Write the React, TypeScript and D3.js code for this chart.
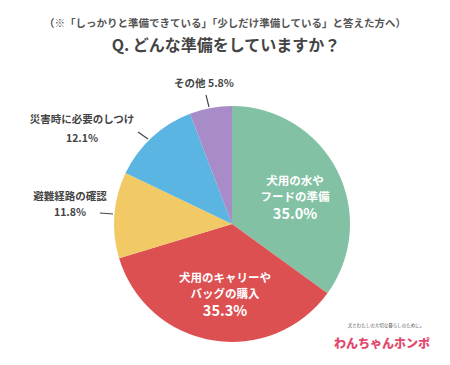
import { useRef, useEffect } from "react";
import * as d3 from "d3";

const categories = [
  "犬用の水やフードの準備",
  "犬用のキャリーやバッグの購入",
  "避難経路の確認",
  "災害時に必要のしつけ",
  "その他",
];
const values = [35.0, 35.3, 11.8, 12.1, 5.8];
const colors = ["#82c1a3", "#dd5052", "#f1ca66", "#5bb5e2", "#a88cc7"];
const subtitle = "（※「しっかりと準備できている」「少しだけ準備している」と答えた方へ）";
const title = "Q. どんな準備をしていますか？";

const FONT = "'Noto Sans CJK JP', 'Noto Sans', sans-serif";

export default function App() {
  const svgRef = useRef<SVGSVGElement>(null);

  useEffect(() => {
    const svg = d3.select(svgRef.current);
    svg.selectAll("*").remove();
    const width = 450;
    const height = 365;
    const cx = 232;
    const cy = 224;
    const r = 118;

    svg.attr("width", width).attr("height", height);
    svg.append("rect").attr("width", width).attr("height", height).attr("fill", "#fff");

    // タイトル
    svg.append("text")
      .attr("x", 225).attr("y", 27)
      .attr("text-anchor", "middle")
      .attr("font-family", FONT).attr("font-weight", "bold")
      .attr("font-size", "10.5px").attr("fill", "#555")
      .text(subtitle);
    svg.append("text")
      .attr("x", 226).attr("y", 51)
      .attr("text-anchor", "middle")
      .attr("font-family", FONT).attr("font-weight", "bold")
      .attr("font-size", "16px").attr("fill", "#444")
      .text(title);

    const data = categories.map((c, i) => ({ name: c, value: values[i], color: colors[i] }));
    const pie = d3.pie<{ name: string; value: number; color: string }>()
      .sort(null)
      .value((d) => d.value);
    const arcs = pie(data);
    const arc = d3.arc<d3.PieArcDatum<{ name: string; value: number; color: string }>>()
      .innerRadius(0)
      .outerRadius(r);

    const g = svg.append("g").attr("transform", `translate(${cx},${cy})`);
    g.selectAll("path")
      .data(arcs)
      .join("path")
      .attr("d", arc)
      .attr("fill", (d) => d.data.color);

    // 内側ラベル
    const inner = [
      { i: 0, lines: ["犬用の水や", "フードの準備"], x: 295, y: 181 },
      { i: 1, lines: ["犬用のキャリーや", "バッグの購入"], x: 225, y: 278 },
    ];
    inner.forEach((lb) => {
      const t = svg.append("g").attr("font-family", FONT).attr("font-weight", "bold")
        .attr("fill", "#fff").attr("text-anchor", "middle");
      lb.lines.forEach((ln, k) => {
        t.append("text").attr("x", lb.x).attr("y", lb.y + k * 15.5)
          .attr("dy", "0.35em").attr("font-size", "11.5px").text(ln);
      });
      t.append("text").attr("x", lb.x).attr("y", lb.y + 33)
        .attr("dy", "0.35em").attr("font-size", "14.5px")
        .text(`${d3.format(".1f")(values[lb.i])}%`);
    });

    // 外側ラベル
    const outer = svg.append("g").attr("font-family", FONT).attr("font-weight", "bold")
      .attr("fill", "#444").attr("font-size", "10.5px");

    // 避難経路の確認
    outer.append("text").attr("x", 70).attr("y", 196).attr("dy", "0.35em")
      .attr("text-anchor", "middle").text(categories[2]);
    outer.append("text").attr("x", 70).attr("y", 212).attr("dy", "0.35em")
      .attr("text-anchor", "middle").text(`${d3.format(".1f")(values[2])}%`);
    // 災害時に必要のしつけ
    outer.append("text").attr("x", 82).attr("y", 119).attr("dy", "0.35em")
      .attr("text-anchor", "middle").text(categories[3]);
    outer.append("text").attr("x", 82).attr("y", 138).attr("dy", "0.35em")
      .attr("text-anchor", "middle").text(`${d3.format(".1f")(values[3])}%`);
    // その他
    outer.append("text").attr("x", 204).attr("y", 83).attr("dy", "0.35em")
      .attr("text-anchor", "middle").text(`${categories[4]} ${d3.format(".1f")(values[4])}%`);

    // 引き出し線
    const leaders = [
      [[100, 213], [113, 214]],
      [[138, 132], [148, 139]],
      [[206, 95], [209, 107]],
    ];
    leaders.forEach((l) => {
      svg.append("line")
        .attr("x1", l[0][0]).attr("y1", l[0][1])
        .attr("x2", l[1][0]).attr("y2", l[1][1])
        .attr("stroke", "#444").attr("stroke-width", 1.2);
    });

    // ロゴ
    svg.append("text").attr("x", 386).attr("y", 327)
      .attr("text-anchor", "middle").attr("font-family", FONT)
      .attr("font-size", "4.5px").attr("fill", "#555")
      .text("犬とわたしの大切な暮らしのために。");
    svg.append("text").attr("x", 382).attr("y", 348)
      .attr("text-anchor", "middle").attr("font-family", FONT)
      .attr("font-weight", "900").attr("font-size", "12px").attr("fill", "#e2486b")
      .text("わんちゃんホンポ");
  }, []);

  return <svg ref={svgRef} style={{ position: "absolute", left: 0, top: 0 }}></svg>;
}
